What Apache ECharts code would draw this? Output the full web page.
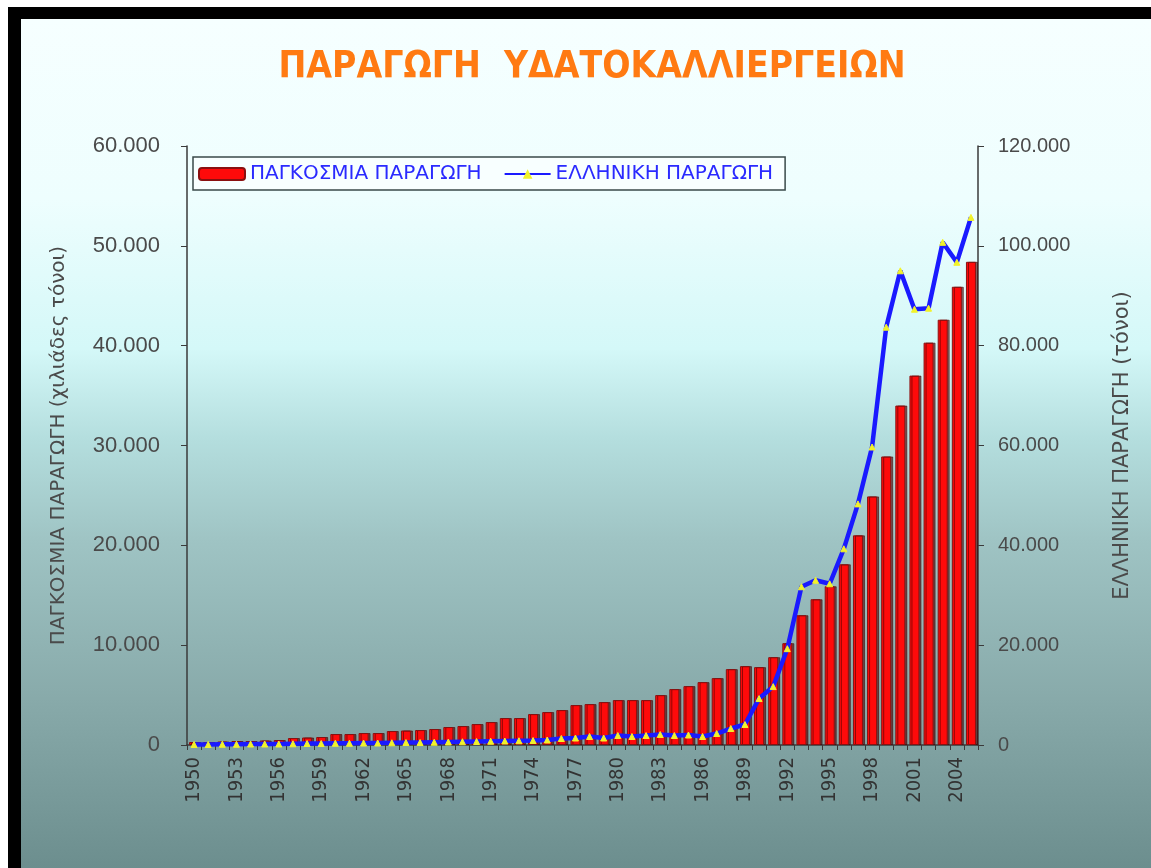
<!DOCTYPE html>
<html>
<head>
<meta charset="utf-8">
<script src="https://cdn.jsdelivr.net/npm/echarts@6/dist/echarts.min.js"></script>
<style>
  html, body { margin: 0; padding: 0; width: 1151px; height: 868px; background: #ffffff; overflow: hidden; }
  #frame { position: absolute; left: 8px; top: 7px; right: 0; bottom: 0; background: #000; }
  #slide { position: absolute; left: 21px; top: 19px; right: 0; bottom: 0;
    background: linear-gradient(to bottom, #f6ffff 0px, #eefefe 180px, #d4f8f8 330px, #b4dede 420px, #9fc4c4 520px, #88aaaa 680px, #6c8e8e 849px); }
  #chart { position: absolute; left: 0; top: 0; width: 1151px; height: 868px; }
</style>
</head>
<body>
<div id="frame"></div>
<div id="slide"></div>
<div id="chart"></div>
<script>
const titleText = 'ΠΑΡΑΓΩΓΗ  ΥΔΑΤΟΚΑΛΛΙΕΡΓΕΙΩΝ';
const worldName = 'ΠΑΓΚΟΣΜΙΑ ΠΑΡΑΓΩΓΗ';
const greekName = 'ΕΛΛΗΝΙΚΗ ΠΑΡΑΓΩΓΗ';
const leftAxisName = 'ΠΑΓΚΟΣΜΙΑ ΠΑΡΑΓΩΓΗ (χιλιάδες τόνοι)';
const rightAxisName = 'ΕΛΛΗΝΙΚΗ ΠΑΡΑΓΩΓΗ (τόνοι)';

const years = [
  '1950','1951','1952','1953','1954','1955','1956','1957','1958','1959',
  '1960','1961','1962','1963','1964','1965','1966','1967','1968','1969',
  '1970','1971','1972','1973','1974','1975','1976','1977','1978','1979',
  '1980','1981','1982','1983','1984','1985','1986','1987','1988','1989',
  '1990','1991','1992','1993','1994','1995','1996','1997','1998','1999',
  '2000','2001','2002','2003','2004','2005'
];

// World aquaculture production (thousand tonnes)
const worldProduction = [
  300, 300, 350, 400, 400, 450, 500, 700, 750, 800,
  1100, 1100, 1200, 1200, 1400, 1450, 1500, 1600, 1800, 1900,
  2100, 2300, 2700, 2700, 3100, 3300, 3500, 4000, 4100, 4300,
  4500, 4500, 4500, 5000, 5600, 5900, 6300, 6700, 7600, 7900,
  7800, 8800, 10200, 13000, 14600, 15900, 18100, 21000, 24900, 28900,
  34000, 37000, 40300, 42600, 45900, 48400
];

// Greek aquaculture production (tonnes)
const greekProduction = [
  100, 100, 150, 150, 200, 200, 200, 250, 300, 300,
  350, 350, 400, 400, 450, 500, 500, 550, 600, 650,
  700, 750, 800, 850, 900, 1000, 1300, 1400, 1700, 1400,
  1900, 1700, 1900, 2100, 1900, 2000, 1700, 2300, 3300, 4100,
  9300, 11700, 19300, 31700, 33000, 32300, 39300, 48300, 59700, 83700,
  95000, 87300, 87500, 100700, 96700, 105700
];

const leftTicks = { min: 0, max: 60000, interval: 10000 };
const rightTicks = { min: 0, max: 120000, interval: 20000 };

function fmt(v) { return String(v).replace(/\B(?=(\d{3})+(?!\d))/g, '.'); }

const chart = echarts.init(document.getElementById('chart'), null, { renderer: 'canvas' });
const axisColor = '#3a3a3a';
const labelColor = '#4a4a4a';
chart.setOption({
  backgroundColor: 'transparent',
  animation: false,
  title: {
    text: titleText,
    left: 587, top: 44, textAlign: 'center',
    textStyle: { color: '#ff7a12', fontSize: 37, fontWeight: 'bold',
      fontFamily: '"Liberation Sans Narrow", "DejaVu Sans Condensed", "Liberation Sans", sans-serif' }
  },
  legend: {
    left: 193, top: 157, width: 610, height: 24,
    padding: [7, 12, 6, 5],
    backgroundColor: '#f8ffff',
    borderColor: '#3a4a4a', borderWidth: 1.5,
    itemWidth: 46, itemHeight: 12, itemGap: 22,
    textStyle: { color: '#2a2aff', fontSize: 20, fontFamily: '"DejaVu Sans", "Liberation Sans", sans-serif' },
    data: [
      { name: worldName, icon: 'roundRect' },
      { name: greekName }
    ]
  },
  grid: { left: 187, right: 173, top: 146, bottom: 123, containLabel: false },
  xAxis: {
    type: 'category',
    data: years,
    boundaryGap: true,
    axisLine: { lineStyle: { color: axisColor, width: 1.5 } },
    axisTick: { show: true, interval: 0, length: 5, lineStyle: { color: axisColor } },
    axisLabel: { interval: 2, rotate: 90, color: '#333', fontSize: 20, margin: 12,
      fontFamily: '"DejaVu Sans Condensed", "Liberation Sans", sans-serif' }
  },
  yAxis: [
    {
      type: 'value', position: 'left',
      min: leftTicks.min, max: leftTicks.max, interval: leftTicks.interval,
      name: leftAxisName, nameLocation: 'middle', nameRotate: 90, nameGap: 118,
      nameTextStyle: { color: labelColor, fontSize: 20, fontFamily: '"DejaVu Sans", "Liberation Sans", sans-serif' },
      axisLine: { show: true, lineStyle: { color: axisColor, width: 1.5 } },
      axisTick: { show: true, length: 6, lineStyle: { color: axisColor } },
      splitLine: { show: false },
      axisLabel: { formatter: fmt, color: labelColor, fontSize: 22, margin: 27,
        fontFamily: '"Liberation Sans", Arial, sans-serif' }
    },
    {
      type: 'value', position: 'right',
      min: rightTicks.min, max: rightTicks.max, interval: rightTicks.interval,
      name: rightAxisName, nameLocation: 'middle', nameRotate: 90, nameGap: 134,
      nameTextStyle: { color: labelColor, fontSize: 21, fontFamily: '"DejaVu Sans", "Liberation Sans", sans-serif' },
      axisLine: { show: true, lineStyle: { color: axisColor, width: 1.5 } },
      axisTick: { show: true, length: 6, lineStyle: { color: axisColor } },
      splitLine: { show: false },
      axisLabel: { formatter: fmt, color: labelColor, fontSize: 20, margin: 20,
        fontFamily: '"Liberation Sans", Arial, sans-serif' }
    }
  ],
  series: [
    {
      name: worldName, type: 'bar', yAxisIndex: 0,
      data: worldProduction,
      barWidth: 10,
      itemStyle: { color: '#ff0a0a', borderColor: '#8a1010', borderWidth: 1,
        shadowColor: 'rgba(70,0,0,0.6)', shadowOffsetX: 2, shadowBlur: 0 }
    },
    {
      name: greekName, type: 'line', yAxisIndex: 1,
      data: greekProduction,
      symbol: 'triangle', symbolSize: 6, showSymbol: true,
      lineStyle: { color: '#1a1aff', width: 4.5 },
      itemStyle: { color: '#f2f22a', borderColor: '#f2f22a' },
      z: 3
    }
  ]
});
</script>
</body>
</html>
